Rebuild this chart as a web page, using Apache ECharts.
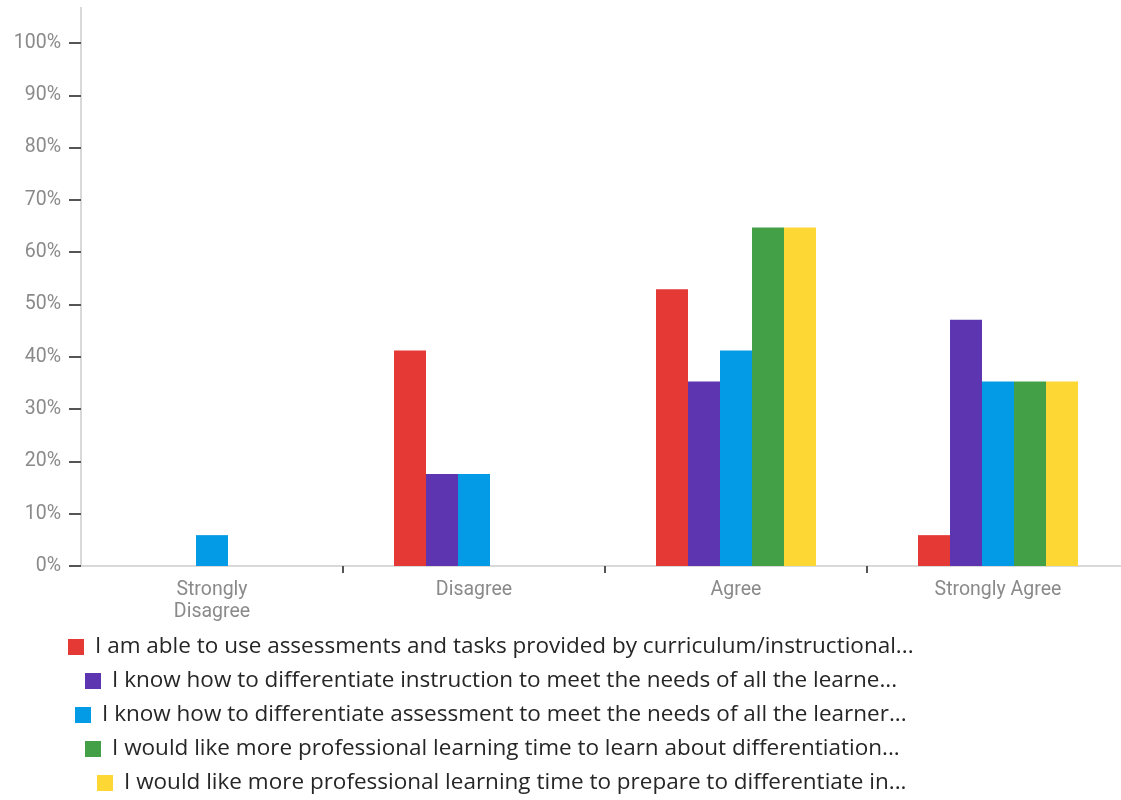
<!DOCTYPE html>
<html>
<head>
<meta charset="utf-8">
<script src="https://cdn.jsdelivr.net/npm/echarts@6/dist/echarts.min.js"></script>
<style>
  html, body { margin: 0; padding: 0; background: #fff; }
  #chart { width: 1121px; height: 800px; }
</style>
</head>
<body>
<div id="chart"></div>
<script>
// Survey responses (share of respondents, %)
const categories = ['Strongly\nDisagree', 'Disagree', 'Agree', 'Strongly Agree'];
const yTicks = [0, 10, 20, 30, 40, 50, 60, 70, 80, 90, 100];

const seriesNames = [
  'I am able to use assessments and tasks provided by curriculum/instructional...',
  'I know how to differentiate instruction to meet the needs of all the learne...',
  'I know how to differentiate assessment to meet the needs of all the learner...',
  'I would like more professional learning time to learn about differentiation...',
  'I would like more professional learning time to prepare to differentiate in...'
];
const useAssessments       = [0, 41.2, 52.9, 5.9];
const diffInstruction      = [0, 17.6, 35.3, 47.1];
const diffAssessment       = [5.9, 17.6, 41.2, 35.3];
const learnDifferentiation = [0, 0, 64.7, 35.3];
const prepareDifferentiate = [0, 0, 64.7, 35.3];

const seriesValues = [useAssessments, diffInstruction, diffAssessment, learnDifferentiation, prepareDifferentiate];
const colors = ['#E53935', '#5E35B1', '#039BE5', '#43A047', '#FDD835'];

const chart = echarts.init(document.getElementById('chart'));

// one legend row per series, each row roughly centred under the plot
const legendRowCenters = [647, 681, 715, 749, 783];
const legendRowLefts = [68, 85, 75, 85, 97];
const legends = seriesNames.map((name, i) => ({
  data: [name],
  left: legendRowLefts[i],
  top: legendRowCenters[i] - 15,
  padding: 0,
  itemWidth: 16,
  itemHeight: 16,
  itemGap: 0,
  icon: 'rect',
  selectedMode: false,
  textStyle: { fontFamily: 'Open Sans', fontSize: 22.5, lineHeight: 30, color: '#262626', padding: [0, 0, 0, 6] }
}));

const axisFont = { fontFamily: 'Roboto, sans-serif', fontSize: 19.5, color: '#8a8a8a' };

chart.setOption({
  animation: false,
  color: colors,
  grid: { left: 81, width: 1048, top: 43, bottom: 234, containLabel: false, outerBoundsMode: 'none' },
  legend: legends,
  xAxis: {
    type: 'category',
    data: categories,
    axisLine: { lineStyle: { color: '#d9d9d9', width: 2 } },
    axisTick: {
      show: true,
      length: 7,
      interval: (index) => index !== 0,
      lineStyle: { color: '#555', width: 2 }
    },
    axisLabel: Object.assign({ lineHeight: 22, margin: 13 }, axisFont)
  },
  yAxis: {
    type: 'value',
    min: 0,
    max: 100,
    interval: 10,
    axisLine: { show: true, lineStyle: { color: '#d9d9d9', width: 2 } },
    axisTick: { show: true, length: 12, lineStyle: { color: '#555', width: 2 } },
    splitLine: { show: false },
    axisLabel: Object.assign({
      margin: 20,
      formatter: v => yTicks.includes(v) ? v + '%' : ''
    }, axisFont)
  },
  series: seriesValues.map((vals, i) => ({
    name: seriesNames[i],
    type: 'bar',
    data: vals,
    barWidth: 32,
    barGap: '0%',
    itemStyle: { color: colors[i] }
  }))
});

// extend the value-axis line above the top tick
const axisTopY = chart.convertToPixel({ yAxisIndex: 0 }, 100);
chart.setOption({
  graphic: [{
    type: 'line',
    shape: { x1: 81, y1: 7, x2: 81, y2: axisTopY },
    style: { stroke: '#d9d9d9', lineWidth: 2 },
    silent: true
  }]
});
</script>
</body>
</html>
